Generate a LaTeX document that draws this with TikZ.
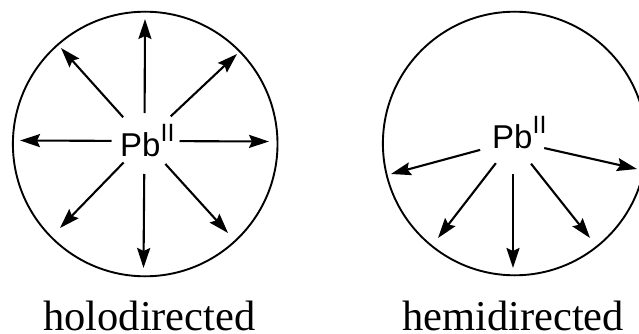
\documentclass[tikz,border=0pt]{standalone}
\usepackage{fontspec}
\setmainfont{Liberation Serif}
\newfontfamily\pbfont{Liberation Sans}
\usetikzlibrary{arrows.meta}
\tikzset{
  ring/.style={line width=1.9pt},
  ray/.style={line width=2.1pt, -{Stealth[length=20pt,width=13pt,inset=3pt]}},
  pbtext/.style={anchor=base west, inner sep=0pt, font=\pbfont\fontsize{33}{33}\selectfont},
  caption/.style={anchor=base west, inner sep=0pt, font=\fontsize{42.5}{42.5}\selectfont}
}
\newcommand{\pbsup}{Pb\raisebox{15pt}{\fontsize{25}{25}\selectfont II}}
\begin{document}
\begin{tikzpicture}[x=1pt,y=-1pt]
\useasboundingbox (0,0) rectangle (639,334);
% circles
\draw[ring] (145.2,144) circle[radius=132.3pt];
\draw[ring] (514.7,143.5) circle[radius=131.8pt];
% texts
\node[pbtext] (pbL) at (120,156) {\pbsup};
\node[pbtext] (pbR) at (492,148) {\pbsup};
\node[caption] (holo) at (43,330.5) {holodirected};
\node[caption] (hemi) at (402,330.5) {hemidirected};
% hubs
\coordinate (hubL) at (144.5,141);
\coordinate (hubR) at (513,141);
% left ends
\coordinate (L1) at (145,19);
\coordinate (L2) at (237,54);
\coordinate (L3) at (269,141.5);
\coordinate (L4) at (228,233);
\coordinate (L5) at (143.5,268);
\coordinate (L6) at (60,228);
\coordinate (L7) at (20,140.5);
\coordinate (L8) at (61,48);
\draw[ray, shorten <=28pt] (hubL) -- (L1);
\draw[ray, shorten <=36pt] (hubL) -- (L2);
\draw[ray, shorten <=35pt] (hubL) -- (L3);
\draw[ray, shorten <=31pt] (hubL) -- (L4);
\draw[ray, shorten <=33pt] (hubL) -- (L5);
\draw[ray, shorten <=30pt] (hubL) -- (L6);
\draw[ray, shorten <=33pt] (hubL) -- (L7);
\draw[ray, shorten <=32pt] (hubL) -- (L8);
% right ends
\coordinate (R1) at (391,174);
\coordinate (R2) at (637,169);
\coordinate (R3) at (438,238);
\coordinate (R4) at (513,268);
\coordinate (R5) at (590,238);
\draw[ray, shorten <=34pt] (hubR) -- (R1);
\draw[ray, shorten <=32pt] (hubR) -- (R2);
\draw[ray, shorten <=28pt] (hubR) -- (R3);
\draw[ray, shorten <=33pt] (hubR) -- (R4);
\draw[ray, shorten <=29pt] (hubR) -- (R5);
\end{tikzpicture}
\end{document}
